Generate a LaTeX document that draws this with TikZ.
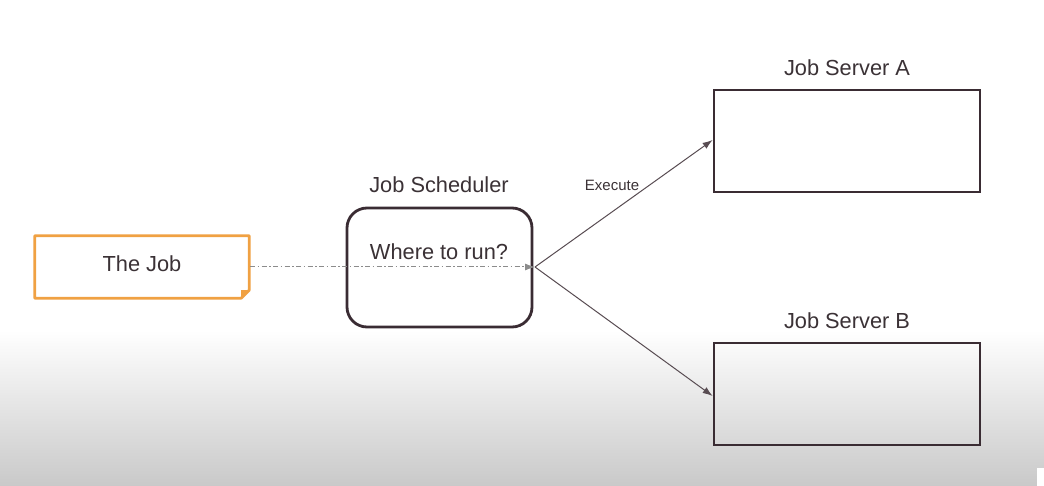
\documentclass[tikz,border=0pt]{standalone}
\usepackage{fontspec}
\setmainfont{Liberation Sans}
\usetikzlibrary{arrows.meta}
\definecolor{ink}{HTML}{3A2C33}
\definecolor{txt}{HTML}{3B3236}
\definecolor{jobor}{HTML}{F0A143}
\definecolor{bgbot}{HTML}{C9C9C9}
\tikzset{
  lbl/.style={text=txt, font=\fontsize{21.8}{23}\selectfont, inner sep=0pt},
  server/.style={draw=ink, line width=2.8pt, minimum width=266pt, minimum height=102pt, inner sep=0pt},
  sched/.style={draw=ink, line width=2.8pt, rounded corners=20pt, minimum width=185pt, minimum height=119pt, inner sep=0pt},
  conn/.style={draw=ink!85, line width=1pt, -{Latex[length=10pt,width=7pt]}},
}
\begin{document}
\begin{tikzpicture}[x=1pt,y=-1pt]
\useasboundingbox (0,0) rectangle (1044,486);
\fill[white] (0,0) rectangle (1044,486);
\shade[top color=white, bottom color=bgbot] (0,330) rectangle (1044,486);
\fill[white] (1037,468) rectangle (1044,486);
% The Job
\node[inner sep=0pt, minimum width=214pt, minimum height=62pt] (job) at (142,267) {};
\draw[jobor, line width=2.8pt, line join=round]
  (job.north west) -- (job.north east) -- ([yshift=8pt]job.south east) -- ([xshift=-8pt]job.south east) -- (job.south west) -- cycle;
\fill[jobor] ([yshift=8pt]job.south east) -- ([xshift=-8pt,yshift=8pt]job.south east) -- ([xshift=-8pt]job.south east) -- cycle;
\node[lbl] (jobt) at (142,264) {The Job};
% Scheduler
\node[sched] (sch) at (439.5,267.5) {};
\node[lbl] (scht) at (439,185) {Job Scheduler};
\node[lbl] (schq) at (439,252) {Where to run?};
\coordinate (schR) at (535,267);
% Servers
\node[server] (sa) at (847,141) {};
\node[lbl] (sat) at (847,68) {Job Server A};
\node[server] (sb) at (847,394) {};
\node[lbl] (sbt) at (847,321) {Job Server B};
% connectors
\draw[draw=gray!90, line width=1pt, dash pattern=on 5pt off 2.5pt on 1.5pt off 2.5pt, -{Latex[length=10pt,width=7pt]}, shorten <=1pt]
  (job.east |- 0,267) -- (schR);
\draw[conn] (schR) -- ([yshift=1pt]sa.west);
\draw[conn] (schR) -- ([yshift=-2pt]sb.west);
\node[text=txt, font=\fontsize{15}{16}\selectfont, inner sep=0pt] (exe) at (612,185) {Execute};
\end{tikzpicture}
\end{document}
